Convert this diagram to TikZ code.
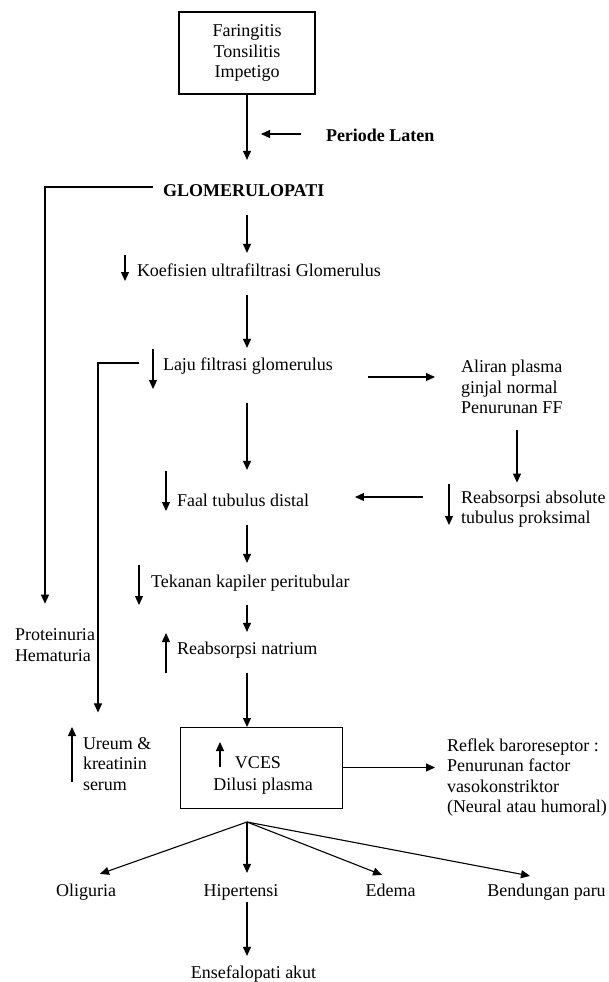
\documentclass[tikz,border=0pt]{standalone}
\usepackage{fontspec}
\setmainfont{Liberation Serif}
\usetikzlibrary{arrows.meta}

\begin{document}
\begin{tikzpicture}[
    x=1pt, y=-1pt,
    every node/.style={
        font={\fontsize{18}{20.5}\selectfont},
        inner sep=0pt,
        outer sep=0pt
    },
    txt/.style={anchor=west, text height=12.6pt, text depth=3.6pt},
    bold/.style={font={\fontsize{18}{20.5}\selectfont\bfseries}},
    multi/.style={anchor=west, align=left},
    arr/.style={-{Triangle[length=9pt,width=8pt]}, line width=1.1pt}
]
\useasboundingbox (0,0) rectangle (609,982);

% --- main column x (pure number, unit pt) ---
\def\xc{247}

% ---- top box ----
\node[draw, line width=2pt, minimum width=136pt, minimum height=82pt,
      align=center] (infeksi) at (\xc,53) {Faringitis\\Tonsilitis\\Impetigo};

% ---- text of the chain ----
\node[txt, bold] (laten) at (326,137) {Periode Laten};
\node[txt, bold] (glomerulo) at (163,192) {GLOMERULOPATI};
\node[txt] (koef) at (137,272) {Koefisien ultrafiltrasi Glomerulus};
\node[txt] (laju) at (163,366) {Laju filtrasi glomerulus};
\node[multi] (aliran) at (461,387) {Aliran plasma\\ginjal normal\\Penurunan FF};
\node[txt] (faal) at (177,502) {Faal tubulus distal};
\node[multi] (reabs) at (461,509) {Reabsorpsi absolute\\tubulus proksimal};
\node[txt] (tekanan) at (151,583) {Tekanan kapiler peritubular};
\node[txt] (natrium) at (177,650) {Reabsorpsi natrium};
\node[multi] (protein) at (15,645) {Proteinuria\\Hematuria};
\node[multi] (ureum) at (83,764) {Ureum \&\\kreatinin\\serum};

% ---- VCES box ----
\node[draw, line width=0.9pt, minimum width=162pt, minimum height=81pt]
    (vces) at (261,767.5) {};
\node[txt, anchor=center] (vcestxt) at (258,764) {VCES};
\node[txt, anchor=center] (dilusi) at (263,786) {Dilusi plasma};
\node[multi] (reflek) at (447,777.5)
    {Reflek baroreseptor :\\Penurunan factor\\vasokonstriktor\\(Neural atau humoral)};

% ---- outcomes ----
\node[txt, anchor=center] (oligo) at (86,892) {Oliguria};
\node[txt, anchor=center] (hiper) at (241,892) {Hipertensi};
\node[txt, anchor=center] (edema) at (390.5,892) {Edema};
\node[txt, anchor=center] (bendung) at (546.5,892) {Bendungan paru};
\node[txt, anchor=center] (ensef) at (253.5,974) {Ensefalopati akut};

% ---- main column arrows ----
\draw[arr, shorten >=24pt] (infeksi.south) -- (infeksi.south |- glomerulo.north);
\draw[arr, shorten <=25pt, shorten >=14pt]
    ([yshift=3pt]laten.west) -- ([yshift=3pt]laten.west -| infeksi.south);
\draw[arr, shorten <=15pt, shorten >=11pt]
    (glomerulo.south -| infeksi.south) -- (koef.north -| infeksi.south);
\draw[arr, shorten <=15pt, shorten >=10pt]
    (koef.south -| infeksi.south) -- (laju.north -| infeksi.south);
\draw[arr, shorten <=29pt, shorten >=24pt]
    (laju.south -| infeksi.south) -- (faal.north -| infeksi.south);
\draw[arr, shorten <=15pt, shorten >=12pt]
    (faal.south -| infeksi.south) -- (tekanan.north -| infeksi.south);
\draw[arr, shorten <=14pt, shorten >=10pt]
    (tekanan.south -| infeksi.south) -- (natrium.north -| infeksi.south);
\draw[arr, shorten <=15pt]
    (natrium.south -| infeksi.south) -- (vces.north -| infeksi.south);

% ---- side branch ----
\draw[arr, shorten <=35pt, shorten >=26pt]
    ([yshift=-11pt]laju.east) -- ([yshift=-11pt]laju.east -| aliran.west);
\draw[arr, shorten <=16pt, shorten >=8pt]
    ([xshift=56pt]aliran.south west) -- ([xshift=56pt]reabs.north west);
\draw[arr, shorten <=38pt, shorten >=46pt]
    ([yshift=12pt]reabs.west) -- ([yshift=12pt]reabs.west -| faal.east);
\draw[arr, shorten >=12pt] (vces.east) -- (vces.east -| reflek.west);

% ---- left brackets ----
\draw[arr, shorten >=25pt]
    ([shift={(-10pt,5pt)}]glomerulo.west) -| ([xshift=30pt]protein.north west);
\draw[arr, shorten >=25pt]
    ([shift={(-24pt,3pt)}]laju.west) -| ([xshift=15pt]ureum.north west);

% ---- small up/down marks ----
\draw[arr] ([shift={(-12pt,17pt)}]koef.west) -- ([shift={(-12pt,-9pt)}]koef.west);
\draw[arr] ([shift={(-10pt,17pt)}]laju.west) -- ([shift={(-10pt,-23pt)}]laju.west);
\draw[arr] ([shift={(-11pt,31pt)}]faal.west) -- ([shift={(-11pt,-9pt)}]faal.west);
\draw[arr] ([shift={(-12pt,25pt)}]reabs.west) -- ([shift={(-12pt,-16pt)}]reabs.west);
\draw[arr] ([shift={(-12pt,18pt)}]tekanan.west) -- ([shift={(-12pt,-22pt)}]tekanan.west);
\draw[arr] ([shift={(-11pt,-23pt)}]natrium.west) -- ([shift={(-11pt,17pt)}]natrium.west);
\draw[arr] ([shift={(-11pt,-18pt)}]ureum.west) -- ([shift={(-11pt,37pt)}]ureum.west);
\draw[arr] ([shift={(-15pt,-3pt)}]vcestxt.west) -- ([shift={(-15pt,22pt)}]vcestxt.west);

% ---- fan to outcomes ----
\coordinate (fan) at ([yshift=-14pt]vces.south -| infeksi.south);
\draw[arr] (fan) -- ([shift={(14pt,10pt)}]oligo.north);
\draw[arr, shorten >=11pt] (fan) -- (fan |- hiper.north);
\draw[arr] (fan) -- ([shift={(-8.5pt,9pt)}]edema.north);
\draw[arr] (fan) -- ([shift={(-16.5pt,8pt)}]bendung.north);
\draw[arr, shorten <=2pt, shorten >=10pt]
    (hiper.south -| fan) -- (ensef.north -| fan);

\end{tikzpicture}
\end{document}
